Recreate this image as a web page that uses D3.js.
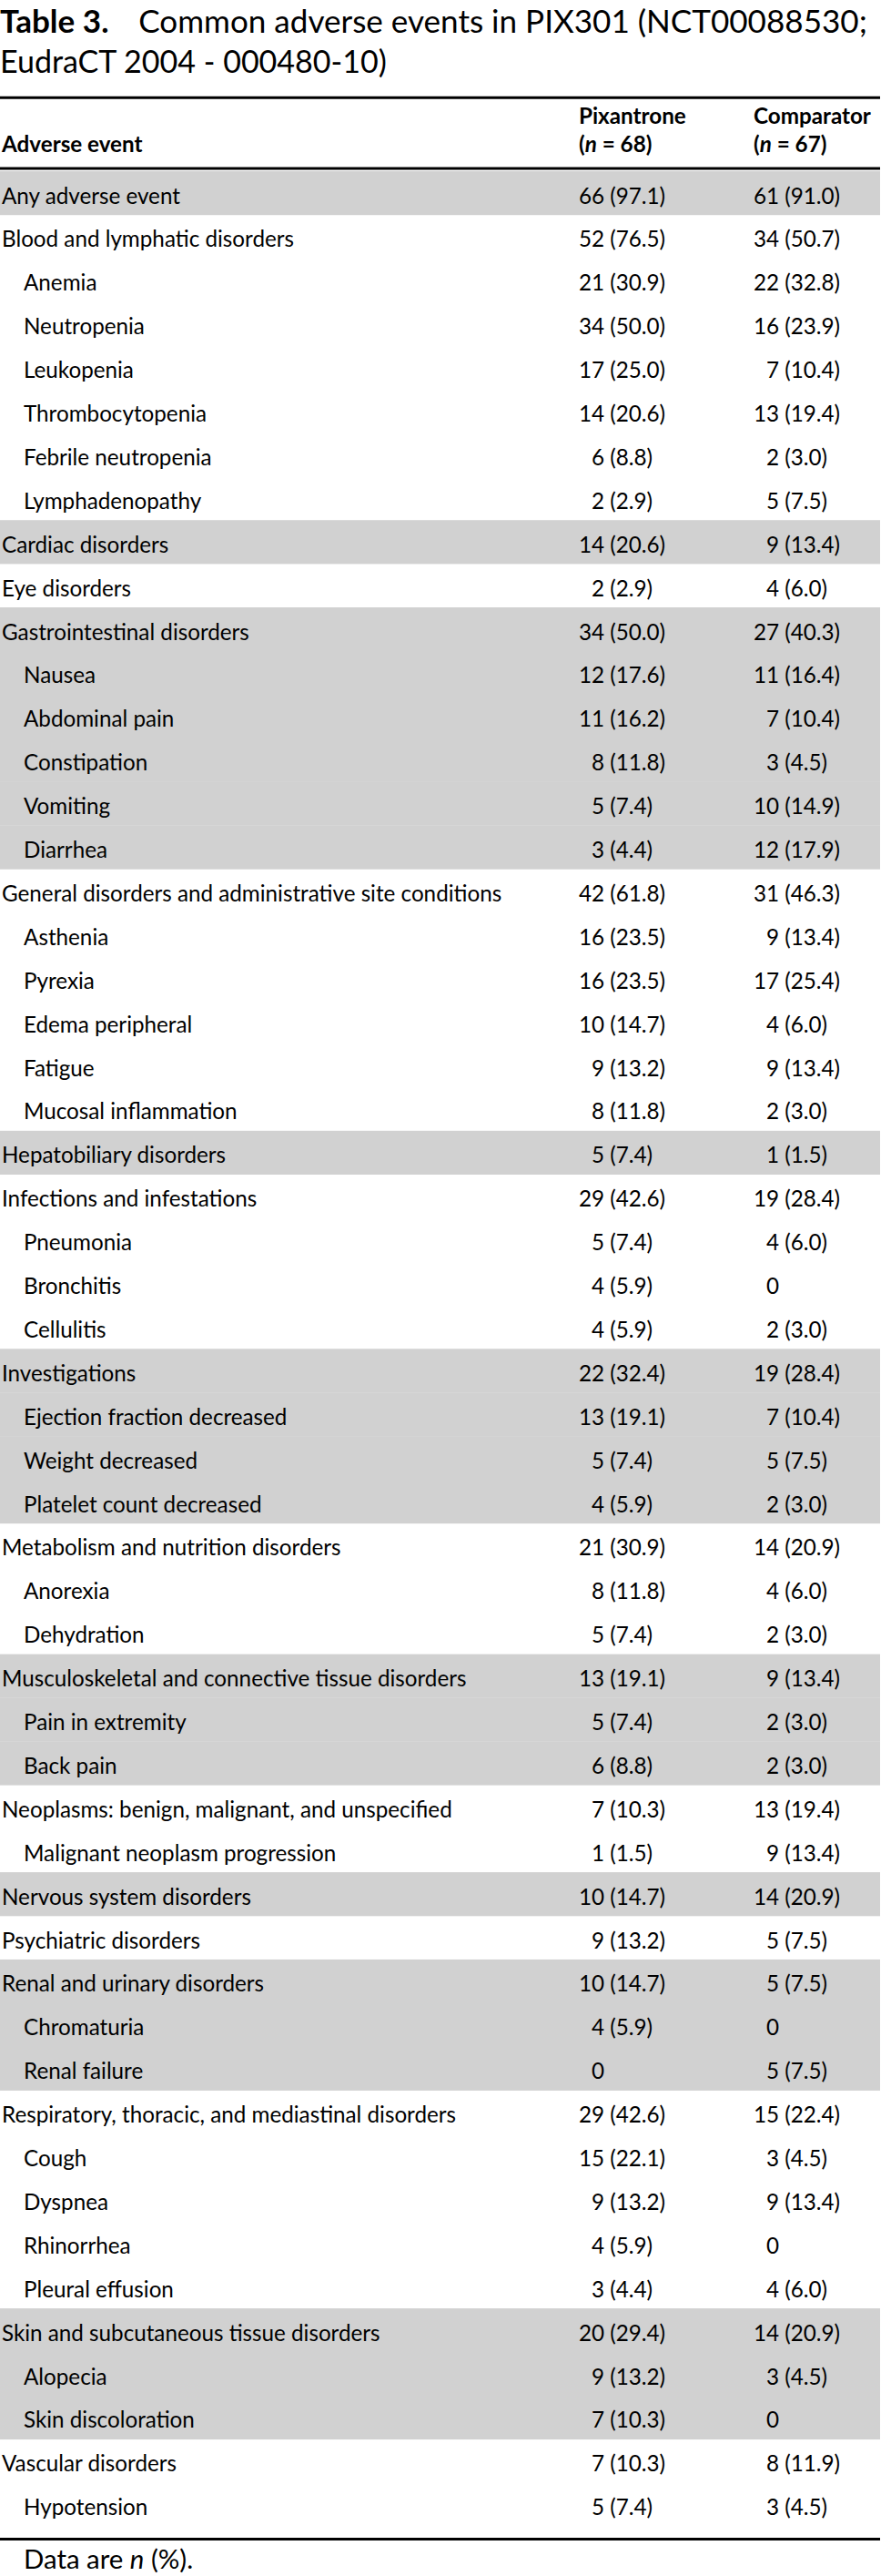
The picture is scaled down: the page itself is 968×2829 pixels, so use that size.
<!DOCTYPE html>
<html>
<head>
<meta charset="utf-8">
<script src="https://cdn.jsdelivr.net/npm/d3@7"></script>
<style>
  html, body { margin: 0; padding: 0; background: #fff; }
  svg { display: block; }
  text { white-space: pre; }
</style>
</head>
<body>
<svg id="chart" width="968" height="2829"></svg>
<script>
// ---------------- DATA ----------------
const titleBold = "Table 3.";
const titleLine1 = "Common adverse events in PIX301 (NCT00088530;";
const titleLine2 = "EudraCT 2004 - 000480-10)";
const headerEvent = "Adverse event";
const headerGroups = ["Pixantrone", "Comparator"];
const headerN = [68, 67];
const footnote = ["Data are ", "n", " (%)."];

const events = [
  "Any adverse event",
  "Blood and lymphatic disorders",
  "Anemia",
  "Neutropenia",
  "Leukopenia",
  "Thrombocytopenia",
  "Febrile neutropenia",
  "Lymphadenopathy",
  "Cardiac disorders",
  "Eye disorders",
  "Gastrointestinal disorders",
  "Nausea",
  "Abdominal pain",
  "Constipation",
  "Vomiting",
  "Diarrhea",
  "General disorders and administrative site conditions",
  "Asthenia",
  "Pyrexia",
  "Edema peripheral",
  "Fatigue",
  "Mucosal inflammation",
  "Hepatobiliary disorders",
  "Infections and infestations",
  "Pneumonia",
  "Bronchitis",
  "Cellulitis",
  "Investigations",
  "Ejection fraction decreased",
  "Weight decreased",
  "Platelet count decreased",
  "Metabolism and nutrition disorders",
  "Anorexia",
  "Dehydration",
  "Musculoskeletal and connective tissue disorders",
  "Pain in extremity",
  "Back pain",
  "Neoplasms: benign, malignant, and unspecified",
  "Malignant neoplasm progression",
  "Nervous system disorders",
  "Psychiatric disorders",
  "Renal and urinary disorders",
  "Chromaturia",
  "Renal failure",
  "Respiratory, thoracic, and mediastinal disorders",
  "Cough",
  "Dyspnea",
  "Rhinorrhea",
  "Pleural effusion",
  "Skin and subcutaneous tissue disorders",
  "Alopecia",
  "Skin discoloration",
  "Vascular disorders",
  "Hypotension"
];
// 0 = system organ class / total, 1 = preferred term (indented)
const levels = [0,0,1,1,1,1,1,1,0,0,0,1,1,1,1,1,0,1,1,1,1,1,0,0,1,1,1,0,1,1,1,0,1,1,0,1,1,0,1,0,0,0,1,1,0,1,1,1,1,0,1,1,0,1];
// 1 = shaded band
const shaded = [1,0,0,0,0,0,0,0,1,0,1,1,1,1,1,1,0,0,0,0,0,0,1,0,0,0,0,1,1,1,1,0,0,0,1,1,1,0,0,1,0,1,1,1,0,0,0,0,0,1,1,1,0,0];

const pixN   = [66,52,21,34,17,14,6,2,14,2,34,12,11,8,5,3,42,16,16,10,9,8,5,29,5,4,4,22,13,5,4,21,8,5,13,5,6,7,1,10,9,10,4,0,29,15,9,4,3,20,9,7,7,5];
const pixPct = ["97.1","76.5","30.9","50.0","25.0","20.6","8.8","2.9","20.6","2.9","50.0","17.6","16.2","11.8","7.4","4.4","61.8","23.5","23.5","14.7","13.2","11.8","7.4","42.6","7.4","5.9","5.9","32.4","19.1","7.4","5.9","30.9","11.8","7.4","19.1","7.4","8.8","10.3","1.5","14.7","13.2","14.7","5.9",null,"42.6","22.1","13.2","5.9","4.4","29.4","13.2","10.3","10.3","7.4"];
const compN   = [61,34,22,16,7,13,2,5,9,4,27,11,7,3,10,12,31,9,17,4,9,2,1,19,4,0,2,19,7,5,2,14,4,2,9,2,2,13,9,14,5,5,0,5,15,3,9,0,4,14,3,0,8,3];
const compPct = ["91.0","50.7","32.8","23.9","10.4","19.4","3.0","7.5","13.4","6.0","40.3","16.4","10.4","4.5","14.9","17.9","46.3","13.4","25.4","6.0","13.4","3.0","1.5","28.4","6.0",null,"3.0","28.4","10.4","7.5","3.0","20.9","6.0","3.0","13.4","3.0","3.0","19.4","13.4","20.9","7.5","7.5",null,"7.5","22.4","4.5","13.4",null,"6.0","20.9","4.5",null,"11.9","4.5"];

// ---------------- LAYOUT ----------------
const W = 968, H = 2829;
const FONT = "Lato, 'Open Sans', 'DejaVu Sans', sans-serif";
const svg = d3.select("#chart");

// helper to measure text widths
const meas = svg.append("text").attr("x", -9999).attr("y", -9999)
  .style("font-family", FONT);
function measure(str, size, weight, style) {
  meas.attr("font-size", size).attr("font-weight", weight || 400)
      .attr("font-style", style || "normal").text(str);
  return meas.node().getComputedTextLength();
}
function fit(str, target, weight) {
  return 100 * target / measure(str, 100, weight);
}

const bodySize = Math.min(fit("Any adverse event", 196), fit("Blood and lymphatic disorders", 328));
const titleSize = fit(titleLine2, 425);
const footSize = fit("Data are n (%).", 187);

// title line 1: bold label + gap + regular text spanning ~953 px
const boldW100 = measure(titleBold, 100, 700);
const line1W100 = measure(titleLine1, 100, 400);
const gapEm = 0.42;
const title1Size = Math.min(titleSize * 1.03, 953 / ((boldW100 + line1W100) / 100 + gapEm));

const rowTop0 = 188, rowH = 47.9;
const y = d3.scaleLinear().domain([0, events.length]).range([rowTop0, rowTop0 + events.length * rowH]);
const col = d3.scaleOrdinal().domain(["event", "sub", "pix", "comp"]).range([2, 26, 636, 828]);

// ---------------- TITLE ----------------
const t1 = svg.append("text").attr("x", 0).attr("y", 36)
  .style("font-family", FONT).attr("font-size", title1Size).attr("fill", "#000");
t1.append("tspan").attr("font-weight", 700).text(titleBold);
const line1X = 953 - title1Size * line1W100 / 100;
t1.append("tspan").attr("x", line1X).text(titleLine1);
svg.append("text").attr("x", 0).attr("y", 80)
  .style("font-family", FONT).attr("font-size", titleSize).attr("fill", "#000")
  .text(titleLine2);

// ---------------- SHADED BANDS ----------------
svg.append("g").selectAll("rect")
  .data(events.map((e, i) => i).filter(i => shaded[i]))
  .join("rect")
  .attr("x", 0).attr("width", 967)
  .attr("y", i => y(i)).attr("height", rowH + 0.3)
  .attr("fill", "#d1d1d1");

// ---------------- RULES ----------------
const rules = [107.3, 185, 2788.5];
svg.append("g").selectAll("line").data(rules).join("line")
  .attr("x1", 0).attr("x2", 967).attr("y1", d => d).attr("y2", d => d)
  .attr("stroke", "#000").attr("stroke-width", 3);

// ---------------- HEADER ----------------
svg.append("text").attr("x", col("event")).attr("y", 167)
  .style("font-family", FONT).attr("font-size", bodySize).attr("font-weight", 700)
  .text(headerEvent);
headerGroups.forEach((g, k) => {
  const x = col(k === 0 ? "pix" : "comp");
  svg.append("text").attr("x", x).attr("y", 136)
    .style("font-family", FONT).attr("font-size", bodySize).attr("font-weight", 700)
    .text(g);
  const t = svg.append("text").attr("x", x).attr("y", 167)
    .style("font-family", FONT).attr("font-size", bodySize).attr("font-weight", 700);
  t.append("tspan").text("(");
  t.append("tspan").attr("font-style", "italic").text("n");
  t.append("tspan").text(" = " + headerN[k] + ")");
});

// ---------------- BODY ----------------
const base = i => y(i) + 35.5;
const body = svg.append("g").style("font-family", FONT).attr("font-size", bodySize).attr("fill", "#000");

body.selectAll("text.ev").data(events).join("text")
  .attr("class", "ev")
  .attr("x", (d, i) => col(levels[i] ? "sub" : "event"))
  .attr("y", (d, i) => base(i))
  .text(d => d);

const twoDigits = measure("00", bodySize);
const spaceW = measure("0 (", bodySize) - measure("0(", bodySize);

function drawColumn(key, counts, pcts) {
  const x0 = col(key) + twoDigits;
  body.selectAll("text.n-" + key).data(counts).join("text")
    .attr("class", "n-" + key)
    .attr("x", x0).attr("y", (d, i) => base(i))
    .attr("text-anchor", "end")
    .text(d => d);
  body.selectAll("text.p-" + key).data(pcts).join("text")
    .attr("class", "p-" + key)
    .attr("x", x0 + spaceW).attr("y", (d, i) => base(i))
    .text(d => d == null ? "" : "(" + d + ")");
}
drawColumn("pix", pixN, pixPct);
drawColumn("comp", compN, compPct);

// ---------------- FOOTNOTE ----------------
const fn = svg.append("text").attr("x", 26).attr("y", 2821)
  .style("font-family", FONT).attr("font-size", footSize);
fn.append("tspan").text(footnote[0]);
fn.append("tspan").attr("font-style", "italic").text(footnote[1]);
fn.append("tspan").text(footnote[2]);

meas.remove();
</script>
</body>
</html>
